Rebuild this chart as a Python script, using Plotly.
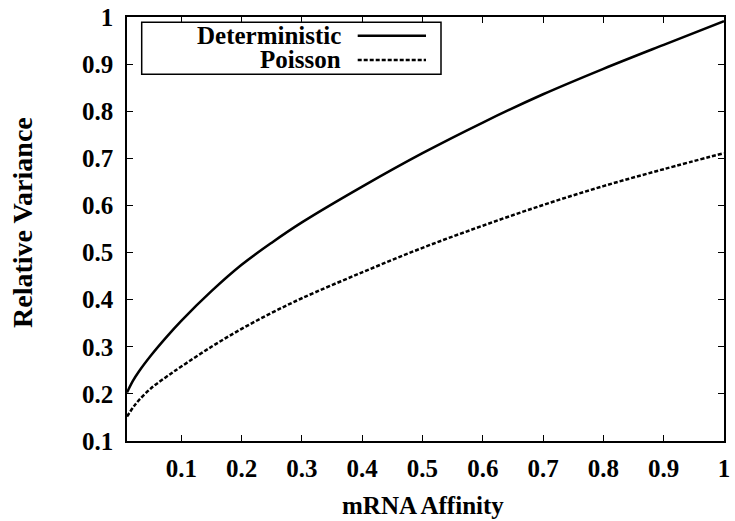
import plotly.graph_objects as go

# mRNA affinity values (x)
affinity = [0.01, 0.02, 0.03, 0.05, 0.075, 0.1, 0.15, 0.2, 0.25, 0.3,
            0.4, 0.5, 0.6, 0.7, 0.8, 0.9, 1.0]
# Relative variance, deterministic model
deterministic = [0.203, 0.228, 0.248, 0.282, 0.32, 0.355, 0.418, 0.474, 0.521, 0.564,
                 0.640, 0.711, 0.776, 0.836, 0.890, 0.941, 0.991]
# Relative variance, Poisson model
poisson = [0.152, 0.171, 0.187, 0.212, 0.236, 0.258, 0.3, 0.338, 0.372, 0.403,
           0.458, 0.510, 0.557, 0.601, 0.641, 0.677, 0.711]

series_names = ["Deterministic", "Poisson"]
x_ticks = [0.1, 0.2, 0.3, 0.4, 0.5, 0.6, 0.7, 0.8, 0.9, 1.0]
x_tick_labels = ["0.1", "0.2", "0.3", "0.4", "0.5", "0.6", "0.7", "0.8", "0.9", "1"]
y_ticks = [0.1, 0.2, 0.3, 0.4, 0.5, 0.6, 0.7, 0.8, 0.9, 1.0]
y_tick_labels = ["0.1", "0.2", "0.3", "0.4", "0.5", "0.6", "0.7", "0.8", "0.9", "1"]
x_title = "mRNA Affinity"
y_title = "Relative Variance"

FONT = "Liberation Serif, Times New Roman, Times, serif"
FS = 25
DASH = "4px,2px"

fig = go.Figure()
fig.add_trace(go.Scatter(x=affinity, y=deterministic, mode="lines",
                         name=series_names[0], line=dict(color="black", width=2.5, shape="spline")))
fig.add_trace(go.Scatter(x=affinity, y=poisson, mode="lines",
                         name=series_names[1], line=dict(color="black", width=2.5, dash=DASH, shape="spline")))

axis_common = dict(showline=True, linecolor="black", linewidth=1.5, mirror="ticks",
                   ticks="inside", ticklen=6, tickwidth=1, tickcolor="black",
                   showgrid=False, zeroline=False,
                   tickfont=dict(family=FONT, size=FS, color="black", weight="bold"))

fig.update_xaxes(range=[0.01, 1.0], tickvals=x_ticks, ticktext=x_tick_labels,
                 ticklabelstandoff=4, **axis_common)
fig.update_yaxes(range=[0.1, 1.0], tickvals=y_ticks, ticktext=y_tick_labels,
                 ticklabelstandoff=7, **axis_common)

L, R, T, B = 127, 11, 17, 80
W, H = 735, 521
pw, ph = W - L - R, H - T - B

def px_x(p):
    return (p - L) / pw

def px_y(p):
    return (H - B - p) / ph

annotations = [
    dict(text=x_title, x=px_x(423), y=px_y(506), xref="paper", yref="paper",
         showarrow=False, xanchor="center", yanchor="middle",
         font=dict(family=FONT, size=FS, color="black", weight="bold")),
    dict(text=y_title, x=px_x(23), y=px_y(223), xref="paper", yref="paper",
         showarrow=False, xanchor="center", yanchor="middle", textangle=-90,
         font=dict(family=FONT, size=28, color="black", weight="bold")),
]
legend_rows = [35.7, 60.0]
for name, ry in zip(series_names, legend_rows):
    annotations.append(dict(text=name, x=px_x(343), y=px_y(ry), xref="paper", yref="paper",
                            showarrow=False, xanchor="right", yanchor="middle",
                            font=dict(family=FONT, size=FS, color="black", weight="bold")))

shapes = [
    dict(type="rect", xref="paper", yref="paper", x0=px_x(141.7), x1=px_x(441),
         y0=px_y(74.3), y1=px_y(22.3), line=dict(color="black", width=1.5), fillcolor="white"),
    dict(type="line", xref="paper", yref="paper", x0=px_x(357.7), x1=px_x(426),
         y0=px_y(legend_rows[0]), y1=px_y(legend_rows[0]), line=dict(color="black", width=2.5)),
    dict(type="line", xref="paper", yref="paper", x0=px_x(357.7), x1=px_x(426),
         y0=px_y(legend_rows[1]), y1=px_y(legend_rows[1]), line=dict(color="black", width=2.5, dash=DASH)),
]

fig.update_layout(width=W, height=H, margin=dict(l=L, r=R, t=T, b=B, autoexpand=False),
                  paper_bgcolor="white", plot_bgcolor="white", showlegend=False,
                  annotations=annotations, shapes=shapes)

fig.write_html("out.html", config={"displayModeBar": False},
               post_script="document.body.style.margin='0';")
